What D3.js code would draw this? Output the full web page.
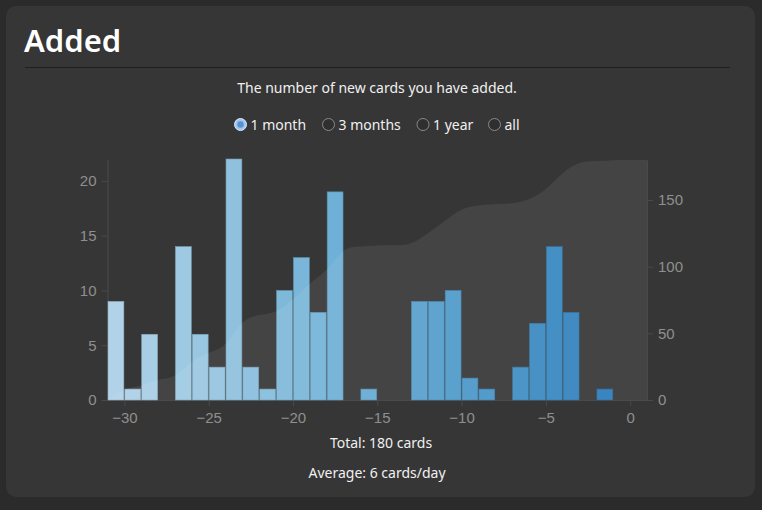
<!DOCTYPE html>
<html>
<head>
<meta charset="utf-8">
<script src="https://cdn.jsdelivr.net/npm/d3@7"></script>
<style>
  html, body { margin: 0; padding: 0; background: #2b2b2b; }
  svg { display: block; }
  .ui { font-family: "Noto Sans", "Open Sans", sans-serif; fill: #f0f0f0; }
  .axis text { font-family: "Liberation Sans", Arial, sans-serif; font-size: 15px; fill: #8f8f8f; }
  .axis line, .axis path { stroke: #4a4a4a; }
</style>
</head>
<body>
<div id="chart"></div>
<script>
// day offsets (bin start), cards added per day
const days = [-31, -30, -29, -28, -27, -26, -25, -24, -23, -22, -21, -20, -19, -18, -17, -16,
              -15, -14, -13, -12, -11, -10, -9, -8, -7, -6, -5, -4, -3, -2, -1, 0];
const added = [9, 1, 6, 0, 14, 6, 3, 22, 3, 1, 10, 13, 8, 19, 0, 1,
               0, 0, 9, 9, 10, 2, 1, 0, 3, 7, 14, 8, 0, 1, 0, 0];
const xTicks = [-30, -25, -20, -15, -10, -5, 0];
const yTicks = [0, 5, 10, 15, 20];
const y2Ticks = [0, 50, 100, 150];
const ranges = ["1 month", "3 months", "1 year", "all"];

const width = 762, height = 510;
const svg = d3.select("#chart").append("svg")
    .attr("width", width)
    .attr("height", height);

// card
svg.append("rect")
    .attr("x", 6).attr("y", 6)
    .attr("width", 749).attr("height", 491)
    .attr("rx", 10)
    .attr("fill", "#363636");

svg.append("text")
    .attr("class", "ui")
    .attr("x", 24).attr("y", 52)
    .attr("font-size", 31)
    .attr("font-weight", 600)
    .style("fill", "#ffffff")
    .text("Added");

svg.append("line")
    .attr("x1", 25).attr("x2", 730)
    .attr("y1", 67.5).attr("y2", 67.5)
    .attr("stroke", "#1f1f1f");

svg.append("text")
    .attr("class", "ui")
    .attr("x", 377).attr("y", 93)
    .attr("text-anchor", "middle")
    .attr("font-size", 14)
    .text("The number of new cards you have added.");

// range selector
const radioX = [240.5, 328.5, 423, 494.5];
const radios = svg.selectAll(".radio")
    .data(ranges)
    .join("g")
    .attr("class", "radio")
    .attr("transform", (d, i) => `translate(${radioX[i]},124.5)`);

radios.append("circle")
    .attr("r", 6)
    .attr("fill", (d, i) => i === 0 ? "#9fc6f0" : "#2f2f2f")
    .attr("stroke", (d, i) => i === 0 ? "#d8e8fa" : "#8a8a8a")
    .attr("stroke-width", 1);

radios.filter((d, i) => i === 0).append("circle")
    .attr("r", 3.2)
    .attr("fill", "#5a8fd0");

radios.append("text")
    .attr("class", "ui")
    .attr("x", 10).attr("y", 5)
    .attr("font-size", 14)
    .text(d => d);

/******************** chart ********************/
const x = d3.scaleLinear().domain([-31, 1]).range([107.5, 647]);
const y = d3.scaleLinear().domain([0, 22]).range([400, 159]);
const y2 = d3.scaleLinear().domain([0, 180]).range([400, 160]);
const colour = d3.scaleSequential(d3.interpolateBlues).domain([-54, 19]);

const bins = days.map((d, i) => ({ x0: d, x1: d + 1, count: added[i] }));

svg.append("g")
    .attr("class", "axis")
    .attr("transform", "translate(0,400)")
    .call(d3.axisBottom(x).tickValues(xTicks).tickSizeOuter(0).tickPadding(6))
    .call(g => g.selectAll("text").attr("dy", "0.75em"));

svg.append("g")
    .attr("class", "axis")
    .attr("transform", "translate(107.5,0)")
    .call(d3.axisLeft(y).tickValues(yTicks).tickSizeOuter(0).tickPadding(5));

svg.append("g")
    .attr("class", "axis")
    .attr("transform", "translate(647,0)")
    .call(d3.axisRight(y2).tickValues(y2Ticks).tickSizeOuter(0).tickPadding(5));

svg.selectAll(".bar")
    .data(bins.filter(d => d.count > 0))
    .join("rect")
    .attr("class", "bar")
    .attr("x", d => x(d.x0) + 0.5)
    .attr("width", d => x(d.x1) - x(d.x0) - 1)
    .attr("y", d => y(d.count))
    .attr("height", d => y(0) - y(d.count))
    .attr("fill", d => colour(d.x0))
    .attr("stroke", d => d3.color(colour(d.x0)).darker(0.6))
    .attr("stroke-width", 0.6);

// cumulative area
let running = 0;
const cumulative = [[-31, 0]].concat(bins.map(d => {
    running += d.count;
    return [d.x1, running];
}));

const area = d3.area()
    .curve(d3.curveBasis)
    .x(d => x(d[0]))
    .y0(y2(0))
    .y1(d => y2(d[1]));

svg.append("path")
    .datum(cumulative)
    .attr("d", area)
    .attr("fill", "#ffffff")
    .attr("fill-opacity", 0.075);

// totals
const total = d3.sum(added);
svg.append("text")
    .attr("class", "ui")
    .attr("x", 381).attr("y", 448)
    .attr("text-anchor", "middle")
    .attr("font-size", 14)
    .text(`Total: ${total} cards`);

svg.append("text")
    .attr("class", "ui")
    .attr("x", 377).attr("y", 478)
    .attr("text-anchor", "middle")
    .attr("font-size", 14)
    .text(`Average: ${Math.round(total / 31)} cards/day`);
</script>
</body>
</html>
